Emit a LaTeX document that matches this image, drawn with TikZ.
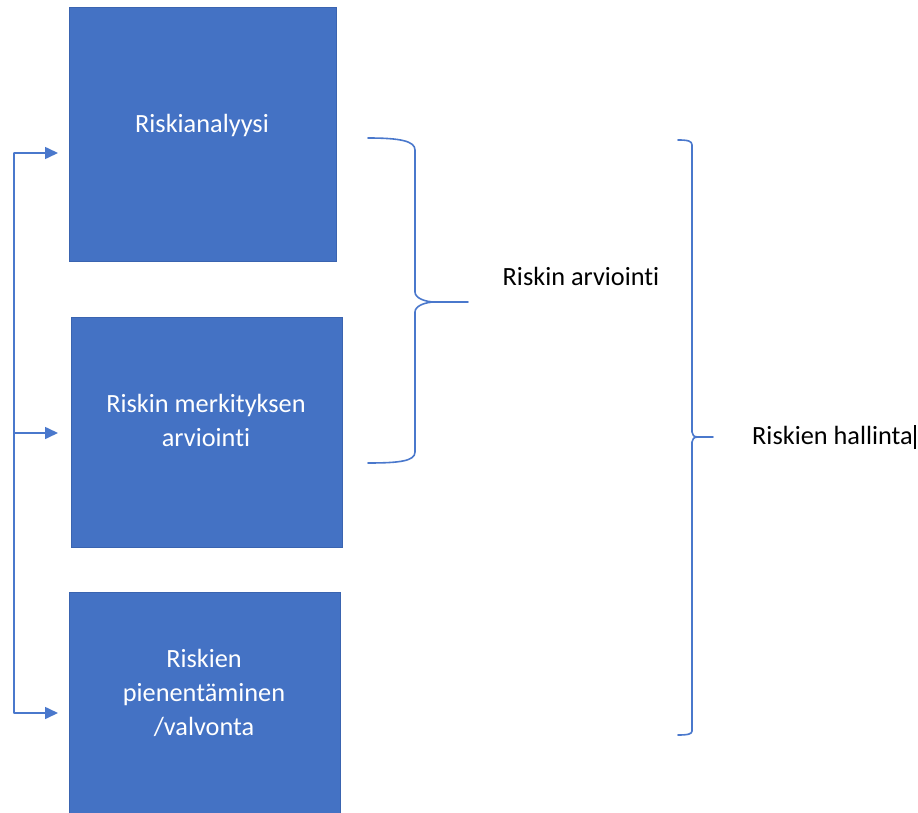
\documentclass[tikz,border=0pt]{standalone}
\usepackage{fontspec}
\setmainfont{Carlito}[Ligatures=CommonOff]
\usetikzlibrary{arrows.meta}
\definecolor{boxblue}{HTML}{4472C4}
\definecolor{boxedge}{HTML}{3A64B0}
\definecolor{linkblue}{HTML}{4A78CC}
\begin{document}
\begin{tikzpicture}[x=1pt,y=-1pt,
  box/.style={draw=boxedge,line width=1pt,fill=boxblue,inner sep=0pt},
  intext/.style={text=white,align=center,font=\fontsize{26.3}{34}\selectfont,inner sep=0pt},
  outtext/.style={text=black,align=center,font=\fontsize{26.3}{34}\selectfont,inner sep=0pt},
  bracket/.style={draw=linkblue,line width=1.6pt,line cap=round,line join=round},
  feed/.style={draw=linkblue,line width=1.6pt,-{Triangle[length=13pt,width=12pt]}}]
\useasboundingbox (0,0) rectangle (918,813);
\clip (0,0) rectangle (918,813);
% boxes
\node[box,minimum width=267pt,minimum height=253pt] (b1) at (202.5,134.5) {};
\node[box,minimum width=271pt,minimum height=230pt] (b2) at (206.5,432) {};
\node[box,minimum width=271pt,minimum height=240pt] (b3) at (204.5,712) {};
\node[intext] (t1) at (202,125) {Riskianalyysi};
\node[intext] (t2) at (206,420) {Riskin merkityksen\\arviointi};
\node[intext] (t3) at (204,693) {Riskien\\pienentäminen\\/valvonta};
% feedback arrows
\coordinate (a1) at (14,153);
\coordinate (a2) at (14,433);
\coordinate (a3) at (14,713);
\coordinate (e1) at (58,153);
\coordinate (e2) at (58,433);
\coordinate (e3) at (58,713);
\draw[bracket] (a1) -- (a3);
\draw[feed] (a1) -- (e1);
\draw[feed] (a2) -- (e2);
\draw[feed] (a3) -- (e3);
% brace 1
\draw[bracket] (368,138) .. controls (400,138) and (415,141) .. (415,150)
  -- (415,292) .. controls (415,298) and (425,302) .. (435,302)
  .. controls (425,302) and (415,306) .. (415,312)
  -- (415,452) .. controls (415,461) and (400,463) .. (368,463);
\draw[bracket] (435,302) -- (468,302);
\node[outtext] (l1) at (581,276) {Riskin arviointi};
% brace 2
\draw[bracket] (678,140) .. controls (688,140) and (692,141) .. (692,145)
  -- (692,432) .. controls (692,435) and (694,437) .. (698,437)
  .. controls (694,437) and (692,439) .. (692,442)
  -- (692,731) .. controls (692,734) and (688,735) .. (678,735);
\draw[bracket] (698,437) -- (713,437);
\node[outtext,anchor=west] (l2) at (752,437) {Riskien hallinta\hspace{1.5pt}\rule[-5pt]{1.2pt}{24pt}};
\end{tikzpicture}
\end{document}
